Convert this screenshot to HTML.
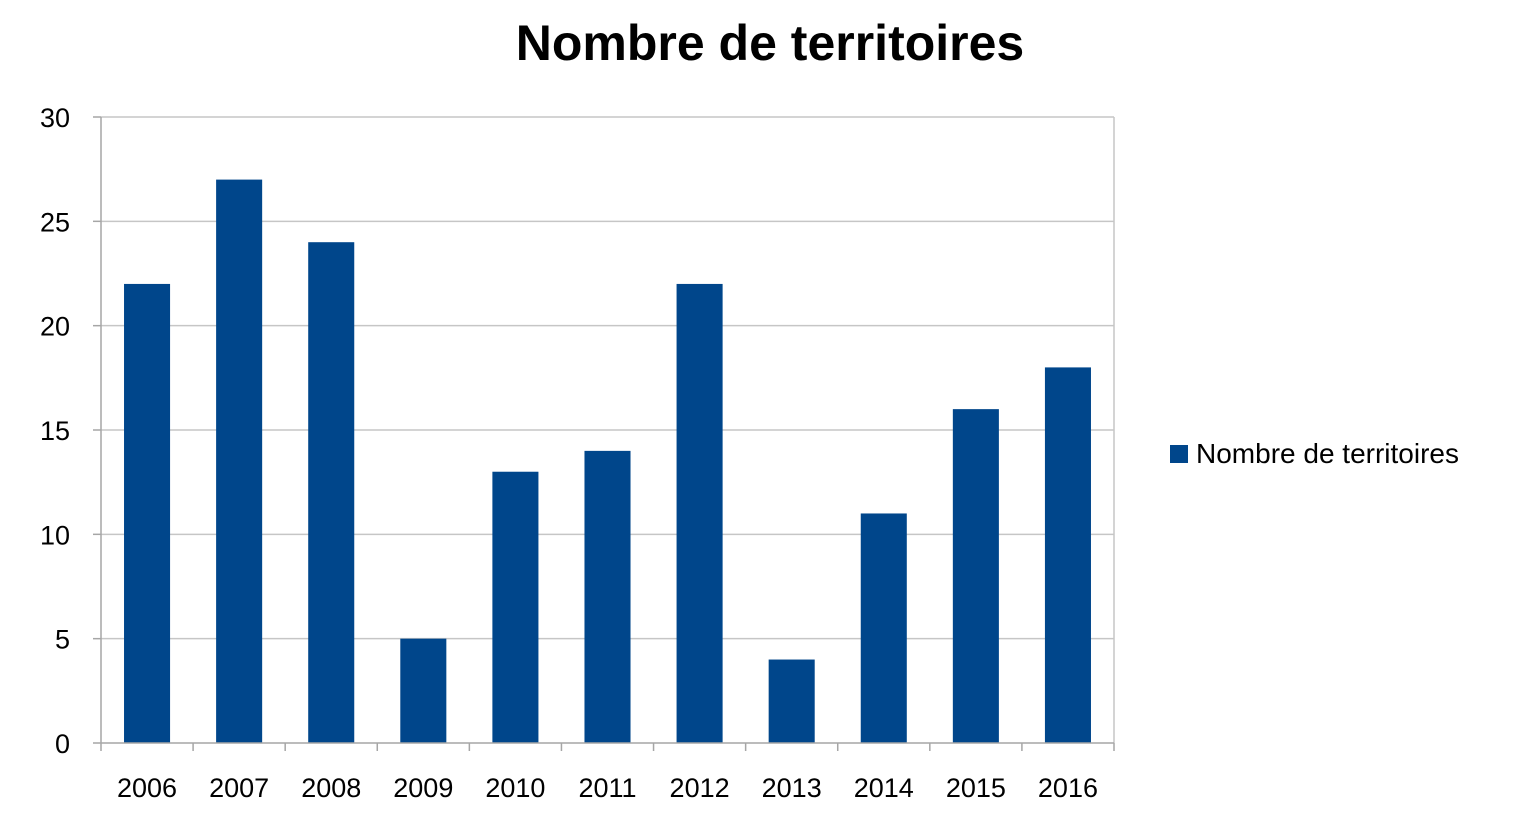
<!DOCTYPE html>
<html><head><meta charset="utf-8"><style>
html,body{margin:0;padding:0;background:#fff;}
svg{display:block;font-family:"Liberation Sans",sans-serif;}
</style></head><body>
<svg width="1540" height="825" viewBox="0 0 1540 825">
<text x="770" y="60" text-anchor="middle" font-size="50" font-weight="bold" fill="#000">Nombre de territoires</text>
<g id="grid"></g>
<g id="bars"></g>
<g id="axes"></g>
<g>
<rect x="1170" y="445" width="18" height="18" fill="#00468B"/>
<text x="1196" y="463" font-size="28" fill="#000">Nombre de territoires</text>
</g>
</svg>
<script>
const categories=["2006","2007","2008","2009","2010","2011","2012","2013","2014","2015","2016"];
const values=[22,27,24,5,13,14,22,4,11,16,18];
const yTicks=[0,5,10,15,20,25,30];
const X0=101,X1=1114,Y0=743,Y1=117,YMAX=30;
const band=(X1-X0)/categories.length;
const y=v=>Y0-(v/YMAX)*(Y0-Y1);
const xc=i=>X0+band*(i+0.5);
const NS="http://www.w3.org/2000/svg";
function mk(tag,attrs,parent){const e=document.createElementNS(NS,tag);for(const k in attrs)e.setAttribute(k,attrs[k]);parent.appendChild(e);return e;}
const grid=document.getElementById('grid'),bars=document.getElementById('bars'),axes=document.getElementById('axes');
yTicks.forEach(t=>{
  if(t>0){const g=mk('line',{x1:X0,x2:X1,y1:y(t),y2:y(t),stroke:'#c6c6c6','stroke-width':1.5},grid);
  
  }
  const tk=mk('line',{x1:X0-8,x2:X0,y1:y(t),y2:y(t),stroke:'#a6a6a6','stroke-width':1.5},axes);
  
  
  const l=mk('text',{x:70,y:y(t)+10,'text-anchor':'end','font-size':27,fill:'#000'},axes);
  l.textContent=t;
  
  
});
const rb=mk('line',{x1:X1,x2:X1,y1:Y1,y2:Y0,stroke:'#c6c6c6','stroke-width':1.5},grid);


values.forEach((v,i)=>{
  const w=band*0.5;
  const r=mk('rect',{x:xc(i)-w/2,y:y(v),width:w,height:Y0-y(v),fill:'#00468B'},bars);
  
  
  const l=mk('text',{x:xc(i),y:797,'text-anchor':'middle','font-size':27,fill:'#000'},axes);
  l.textContent=categories[i];
  
  
});
for(let i=0;i<=categories.length;i++){
  const t=mk('line',{x1:X0+band*i,x2:X0+band*i,y1:Y0,y2:Y0+8,stroke:'#a6a6a6','stroke-width':1.5},axes);
  
  
}
const ya=mk('line',{x1:X0,x2:X0,y1:Y1,y2:Y0,stroke:'#a6a6a6','stroke-width':1.5},axes);


const xa=mk('line',{x1:X0,x2:X1,y1:Y0,y2:Y0,stroke:'#a6a6a6','stroke-width':1.5},axes);


</script>
</body></html>
